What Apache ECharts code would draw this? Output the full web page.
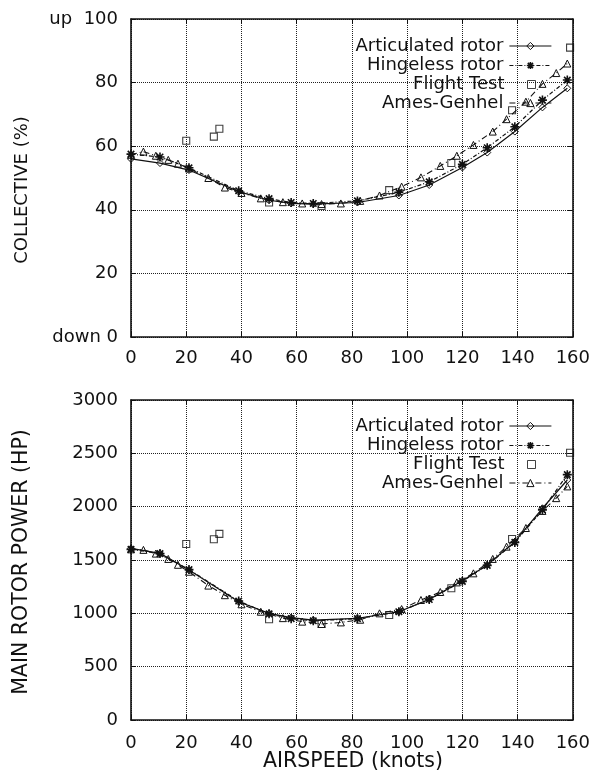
<!DOCTYPE html>
<html>
<head>
<meta charset="utf-8">
<script src="https://cdn.jsdelivr.net/npm/echarts@6/dist/echarts.min.js"></script>
<style>
  html, body { margin: 0; padding: 0; background: #fff; }
  #chart { width: 593px; height: 775px; }
</style>
</head>
<body>
<div id="chart"></div>
<script>
// Airspeed sample points (knots) for the two rotor models
const rotorKnots = [0, 10.5, 21, 39, 50, 58, 66, 82, 97, 108, 120, 129, 139, 149, 158];
// Ames-Genhel sample points (knots)
const genhelKnots = [0, 4.5, 9, 13.5, 17, 21, 28, 34, 40, 47, 55, 62, 69, 76, 83, 90, 98, 105, 112, 118, 124, 131, 136, 143, 149, 154, 158];
// Flight test points (knots)
const flightKnots = [20, 30, 32, 50, 69, 93.5, 116, 138, 159];

// Collective (%)
const collArticulated = [56, 54.7, 52.5, 45.7, 43, 42, 41.8, 42.3, 44.5, 47.8, 53.3, 58, 64.6, 72.2, 78.2];
const collHingeless = [57.5, 56.6, 53.2, 46, 43.5, 42.3, 42, 42.8, 45.5, 48.8, 54.3, 59.5, 66.1, 74.5, 80.8];
const collGenhel = [57.3, 58.3, 57, 55.7, 54.5, 53, 50, 47, 45.3, 43.6, 42.4, 42, 41.8, 42, 42.8, 44.5, 47.3, 50.2, 53.8, 57, 60.4, 64.6, 68.5, 74, 79.6, 83, 86];
const collFlight = [61.7, 63, 65.5, 42.3, 41.2, 46.2, 54.7, 71.3, 91];

// Main rotor power (HP)
const powerArticulated = [1609, 1562, 1406, 1109, 1000, 960, 937, 953, 1015, 1131, 1306, 1453, 1672, 1985, 2250];
const powerHingeless = [1600, 1560, 1410, 1115, 995, 950, 930, 950, 1015, 1130, 1300, 1450, 1665, 1970, 2300];
const powerGenhel = [1600, 1595, 1560, 1510, 1455, 1390, 1260, 1170, 1085, 1015, 955, 922, 900, 915, 940, 1000, 1040, 1125, 1200, 1290, 1375, 1510, 1625, 1800, 1960, 2080, 2190];
const powerFlight = [1650, 1695, 1745, 944, 900, 984, 1235, 1697, 2506];

// Tick labels
const speedTicks = ['0', '20', '40', '60', '80', '100', '120', '140', '160'];
const collectiveTicks = ['down 0', '20', '40', '60', '80', 'up  100'];
const powerTicks = ['0', '500', '1000', '1500', '2000', '2500', '3000'];

const seriesNames = ['Articulated rotor', 'Hingeless rotor', 'Flight Test', 'Ames-Genhel'];

const FONT = 'DejaVu Sans, Liberation Sans, Arial, sans-serif';
const INK = '#111';
const CLEAR = 'rgba(255,255,255,0)';

const pairs = (xs, ys) => xs.map((x, i) => [x, ys[i]]);

// Asterisk marker (plus and cross strokes)
const starPath = 'path://M0,-1V1M-1,0H1M-0.72,-0.72L0.72,0.72M-0.72,0.72L0.72,-0.72';
// Square key drawn inside a wider, empty box so it stays square in a long key slot
const squareKey = 'path://M-5,-1M5,1M-1,-1H1V1H-1Z';

const lineTypes = ['solid', [4, 2, 1, 2], null, [6, 3, 1, 3]];

function panelSeries(g, art, hinge, flight, genhel) {
  const base = { xAxisIndex: g * 2, yAxisIndex: g * 2, silent: true };
  return [
    Object.assign({}, base, {
      name: seriesNames[0], type: 'line', data: pairs(rotorKnots, art),
      symbol: 'diamond', symbolSize: 7,
      lineStyle: { color: INK, width: 1.2, type: lineTypes[0] },
      itemStyle: { color: CLEAR, borderColor: INK, borderWidth: 1 }
    }),
    Object.assign({}, base, {
      name: seriesNames[1], type: 'line', data: pairs(rotorKnots, hinge),
      symbol: starPath, symbolSize: 9,
      lineStyle: { color: INK, width: 1.2, type: lineTypes[1] },
      itemStyle: { color: CLEAR, borderColor: INK, borderWidth: 1.6 }
    }),
    Object.assign({}, base, {
      name: seriesNames[2], type: 'scatter', data: pairs(flightKnots, flight),
      symbol: 'rect', symbolSize: 7,
      itemStyle: { color: CLEAR, borderColor: INK, borderWidth: 1.1 }
    }),
    Object.assign({}, base, {
      name: seriesNames[3], type: 'line', data: pairs(genhelKnots, genhel),
      symbol: 'triangle', symbolSize: 7,
      lineStyle: { color: INK, width: 1.1, type: lineTypes[3] },
      itemStyle: { color: CLEAR, borderColor: INK, borderWidth: 1 }
    })
  ];
}

const frameLine = () => ({ show: true, onZero: false, lineStyle: { color: INK, width: 1.6 } });
const innerTick = () => ({ show: true, inside: true, length: 5, lineStyle: { color: INK, width: 1 } });
const dotted = () => ({ show: true, lineStyle: { color: '#222', width: 1, type: 'dotted' } });
const tickFont = () => ({ color: INK, fontFamily: FONT, fontSize: 18 });

function speedAxes(g, margin) {
  return [
    { type: 'value', gridIndex: g, min: 0, max: 160, interval: 20, position: 'bottom',
      axisLine: frameLine(), axisTick: innerTick(), splitLine: dotted(),
      axisLabel: Object.assign({ margin: margin, formatter: v => speedTicks[Math.round(v / 20)] }, tickFont()) },
    { type: 'value', gridIndex: g, min: 0, max: 160, interval: 20, position: 'top',
      axisLine: frameLine(), axisTick: innerTick(), splitLine: { show: false }, axisLabel: { show: false } }
  ];
}

function valueAxes(g, max, step, labels) {
  return [
    { type: 'value', gridIndex: g, min: 0, max: max, interval: step, position: 'left',
      axisLine: frameLine(), axisTick: innerTick(), splitLine: dotted(),
      axisLabel: Object.assign({ margin: 13, formatter: v => labels[Math.round(v / step)] }, tickFont()) },
    { type: 'value', gridIndex: g, min: 0, max: max, interval: step, position: 'right',
      axisLine: frameLine(), axisTick: innerTick(), splitLine: { show: false }, axisLabel: { show: false } }
  ];
}

// One single-entry legend per row so every label is right-aligned against its key
function panelLegends(top) {
  const rows = [0, 19.5, 38.5, 57];
  return seriesNames.map((n, i) => ({
    data: [{ name: n, icon: i === 2 ? squareKey : undefined }],
    orient: 'vertical', align: 'right', right: 41, top: top + rows[i],
    padding: 0, itemWidth: 42, itemHeight: i === 2 ? 8 : 9, selectedMode: false,
    itemStyle: { color: CLEAR, borderColor: INK, borderWidth: i === 1 ? 1.6 : 1 },
    lineStyle: { width: 1.2 },
    textStyle: { color: INK, fontFamily: FONT, fontSize: 18, padding: [0, 1, 0, 0] }
  }));
}

const chart = echarts.init(document.getElementById('chart'), null, { renderer: 'canvas' });

chart.setOption({
  animation: false,
  backgroundColor: '#fff',
  grid: [
    { left: 131, top: 19, width: 443, height: 318 },
    { left: 131, top: 400, width: 443, height: 320 }
  ],
  xAxis: speedAxes(0, 12).concat(speedAxes(1, 14)),
  yAxis: valueAxes(0, 100, 20, collectiveTicks).concat(valueAxes(1, 3000, 500, powerTicks)),
  legend: panelLegends(37).concat(panelLegends(417)),
  graphic: [
    { type: 'text', x: 22, y: 190, rotation: Math.PI / 2,
      style: { text: 'COLLECTIVE (%)', fill: INK, font: '18px ' + FONT, textAlign: 'center', textVerticalAlign: 'middle' } },
    { type: 'text', x: 22, y: 562, rotation: Math.PI / 2,
      style: { text: 'MAIN ROTOR POWER (HP)', fill: INK, font: '20.5px ' + FONT, textAlign: 'center', textVerticalAlign: 'middle' } },
    { type: 'text', x: 353, y: 762,
      style: { text: 'AIRSPEED (knots)', fill: INK, font: '20.5px ' + FONT, textAlign: 'center', textVerticalAlign: 'middle' } }
  ],
  series: panelSeries(0, collArticulated, collHingeless, collFlight, collGenhel)
    .concat(panelSeries(1, powerArticulated, powerHingeless, powerFlight, powerGenhel))
});
</script>
</body>
</html>
